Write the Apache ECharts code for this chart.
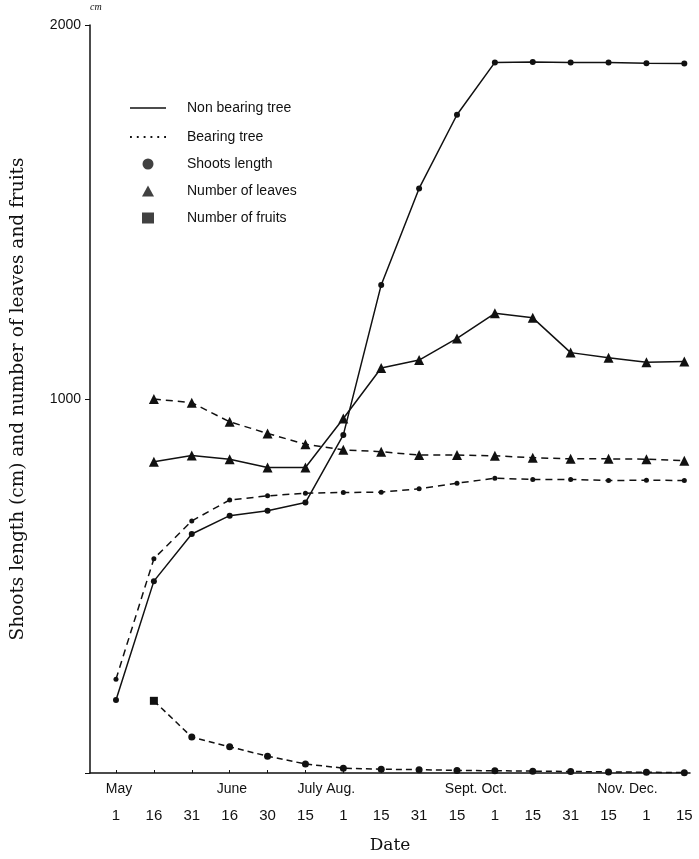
<!DOCTYPE html>
<html><head><meta charset="utf-8">
<script src="https://cdn.jsdelivr.net/npm/echarts@6/dist/echarts.min.js"></script>
<style>html,body{margin:0;padding:0;background:#fff}#c{width:699px;height:859px}</style>
</head><body><div id="c"></div>
<script>
// Date ticks (day of month), month captions
const dayLabels = ['1','16','31','16','30','15','1','15','31','15','1','15','31','15','1','15'];
const monthLabels = ['May','June','July Aug.','Sept. Oct.','Nov. Dec.'];
const monthPos = [0.08, 3.06, 5.55, 9.5, 13.5];

// Values (cm for shoots length; counts for leaves and fruits)
const nonBearingShoots = [195, 513, 639, 688, 701, 723, 904, 1305, 1563, 1760, 1900, 1901, 1900, 1900, 1898, 1897];
const bearingShoots    = [251, 573, 674, 730, 741, 748, 750, 751, 760, 775, 788, 785, 785, 782, 783, 782];
const nonBearingLeaves = [null, 832, 849, 839, 817, 817, 948, 1083, 1104, 1162, 1229, 1217, 1124, 1110, 1098, 1100];
const bearingLeaves    = [null, 1000, 990, 939, 908, 879, 864, 859, 850, 850, 848, 843, 840, 840, 839, 835];
const bearingFruits    = [null, 193, 96, 70, 45, 24, 13, 10, 9, 7, 6, 5, 4, 3, 2, 1];

const idx = dayLabels.map((_, i) => i);
const pairs = arr => arr.map((v, i) => v == null ? null : [i, v]).filter(p => p);

const black = '#111';
const chart = echarts.init(document.getElementById('c'), null, {renderer: 'canvas'});
const solid = {color: black, width: 1.5, type: 'solid'};
const dashed = {color: black, width: 1.5, type: [7, 5]};
const legendText = pad => ({fontFamily: 'Liberation Sans', fontSize: 14, color: black, padding: [0, 0, 0, pad]});
const dotted = 'path://' + [0, 1, 2, 3, 4, 5].map(k => 'M' + (k * 6.6) + ',0h1.8v1.8h-1.8z').join(' ');

chart.setOption({
  animation: false,
  backgroundColor: '#fff',
  color: [black],
  grid: {left: 90, right: 9, top: 25, bottom: 86},
  legend: [{
    orient: 'vertical', left: 125, top: 96, itemWidth: 36, itemHeight: 11, itemGap: 15,
    selectedMode: false, textStyle: legendText(16),
    data: [
      {name: 'Non bearing tree', icon: 'path://M0,0h36v1.6h-36z'},
      {name: 'Bearing tree', icon: dotted}
    ]
  }, {
    orient: 'vertical', left: 137, top: 152, itemWidth: 12, itemHeight: 11, itemGap: 13,
    selectedMode: false, textStyle: legendText(28),
    data: [
      {name: 'Shoots length', icon: 'circle'},
      {name: 'Number of leaves', icon: 'triangle'},
      {name: 'Number of fruits', icon: 'rect'}
    ]
  }],
  xAxis: [{
    type: 'value', min: -0.686, max: 15.15, position: 'bottom',
    name: 'Date', nameLocation: 'middle', nameGap: 64,
    nameTextStyle: {fontFamily: 'DejaVu Serif', fontSize: 17, color: black},
    splitLine: {show: false},
    axisLine: {onZero: false, lineStyle: {color: black, width: 1.5}},
    axisTick: {inside: true, length: 3, customValues: idx, lineStyle: {color: black}},
    axisLabel: {customValues: idx, margin: 35, fontFamily: 'Liberation Sans', fontSize: 15, color: black,
      formatter: v => dayLabels[Math.round(v)]}
  }, {
    type: 'value', min: -0.686, max: 15.15, position: 'bottom',
    splitLine: {show: false}, axisLine: {show: false}, axisTick: {show: false},
    axisLabel: {customValues: monthPos, margin: 9, fontFamily: 'Liberation Sans', fontSize: 14, color: black,
      formatter: v => { let b = 0; monthPos.forEach((p, i) => { if (Math.abs(p - v) < Math.abs(monthPos[b] - v)) b = i; }); return monthLabels[b]; }}
  }],
  yAxis: {
    type: 'value', min: 0, max: 2000, interval: 1000,
    name: 'Shoots length (cm) and number of leaves and fruits', nameLocation: 'middle', nameGap: 62,
    nameTextStyle: {fontFamily: 'DejaVu Serif', fontSize: 18.5, color: black},
    splitLine: {show: false},
    axisLine: {show: true, onZero: false, lineStyle: {color: black, width: 1.5}},
    axisTick: {show: true, length: 5, lineStyle: {color: black}},
    axisLabel: {fontFamily: 'Liberation Sans', fontSize: 14, color: black, margin: 9,
      formatter: v => v === 0 ? '' : String(v)}
  },
  graphic: [{type: 'text', left: 90, top: 2,
    style: {text: 'cm', font: 'italic 10px "Liberation Serif"', fill: black}}],
  series: [
    {name: 'Non bearing tree', type: 'line', data: [], symbol: 'none', lineStyle: solid, itemStyle: {color: black}},
    {name: 'Bearing tree', type: 'line', data: [], symbol: 'none', lineStyle: dashed, itemStyle: {color: black}},
    {name: 'Shoots length', type: 'scatter', data: [], symbol: 'circle', itemStyle: {color: black}},
    {name: 'Number of leaves', type: 'scatter', data: [], symbol: 'triangle', itemStyle: {color: black}},
    {name: 'Number of fruits', type: 'scatter', data: [], symbol: 'rect', itemStyle: {color: black}},

    {name: 'nb-shoots', type: 'line', data: pairs(nonBearingShoots), symbol: 'circle', symbolSize: 6,
      lineStyle: solid, itemStyle: {color: black}},
    {name: 'b-shoots', type: 'line', data: pairs(bearingShoots), symbol: 'circle', symbolSize: 5,
      lineStyle: dashed, itemStyle: {color: black}},
    {name: 'nb-leaves', type: 'line', data: pairs(nonBearingLeaves), symbol: 'triangle', symbolSize: 10,
      lineStyle: solid, itemStyle: {color: black}},
    {name: 'b-leaves', type: 'line', data: pairs(bearingLeaves), symbol: 'triangle', symbolSize: 10,
      lineStyle: dashed, itemStyle: {color: black}},
    {name: 'b-fruits', type: 'line', data: pairs(bearingFruits).map((p, k) => k === 0 ? {value: p, symbol: 'rect', symbolSize: 8} : {value: p}),
      symbol: 'circle', symbolSize: 7, lineStyle: {color: black, width: 1.5, type: [6, 4]}, itemStyle: {color: black}}
  ]
});
</script></body></html>
